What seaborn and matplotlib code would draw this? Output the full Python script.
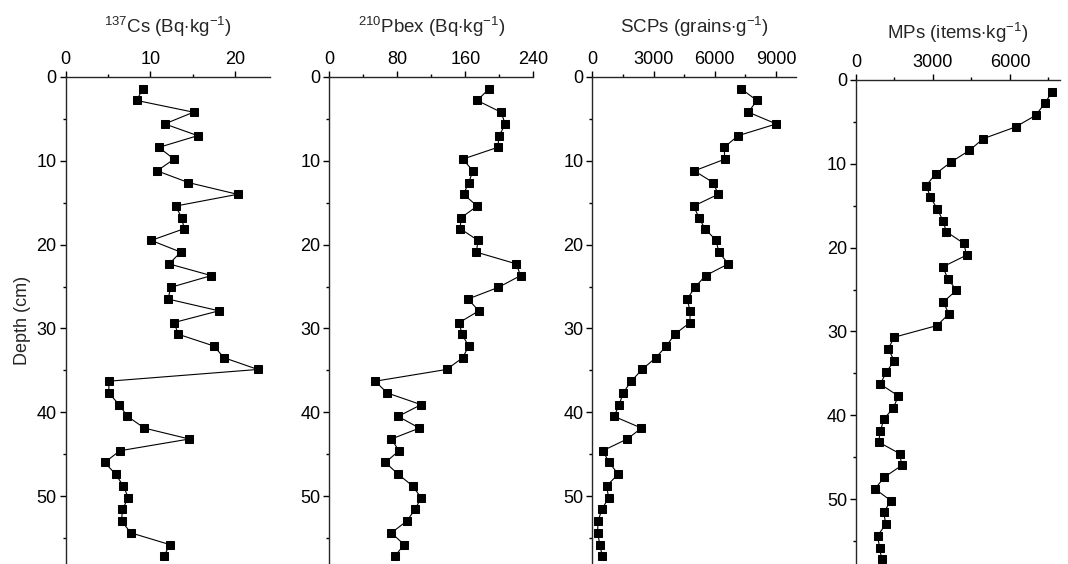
import numpy as np
import pandas as pd
import matplotlib
matplotlib.use("Agg")
import matplotlib.pyplot as plt
import seaborn as sns
from matplotlib.ticker import MultipleLocator

sns.set_style("ticks")
plt.rcParams["font.family"] = ["Liberation Sans", "DejaVu Sans"]
plt.rcParams["mathtext.fontset"] = "custom"
plt.rcParams["mathtext.rm"] = "Liberation Sans"
plt.rcParams["mathtext.it"] = "Liberation Sans"

# depth of each slice (cm)
depth = [1.4, 2.8, 4.2, 5.6, 7.0, 8.4, 9.8, 11.2, 12.6, 14.0, 15.4, 16.8, 18.1,
         19.5, 20.9, 22.3, 23.7, 25.1, 26.5, 27.9, 29.3, 30.7, 32.1, 33.5, 34.9,
         36.3, 37.7, 39.1, 40.5, 41.9, 43.2, 44.6, 46.0, 47.4, 48.8, 50.2, 51.6,
         53.0, 54.4, 55.8, 57.2]

cs137 = [9.1, 8.4, 15.1, 11.7, 15.6, 11.0, 12.8, 10.8, 14.5, 20.3, 13.0, 13.7,
         14.0, 10.1, 13.6, 12.2, 17.2, 12.4, 12.1, 18.1, 12.8, 13.3, 17.5, 18.7,
         22.7, 5.1, 5.1, 6.3, 7.3, 9.3, 14.6, 6.4, 4.6, 5.9, 6.8, 7.4, 6.7, 6.6,
         7.7, 12.3, 11.6]

pb210 = [188, 174, 202, 207, 200, 198, 157, 169, 164, 158, 174, 155, 154, 175,
         173, 220, 225, 199, 163, 176, 153, 156, 164, 157, 138, 54, 68, 108, 81,
         106, 73, 82, 66, 81, 98, 108, 101, 91, 73, 88, 77]

scps = [7290, 8070, 7650, 9020, 7150, 6460, 6500, 5000, 5930, 6170, 4970, 5230,
        5520, 6070, 6200, 6670, 5550, 5030, 4650, 4790, 4790, 4040, 3630, 3110,
        2440, 1910, 1510, 1320, 1070, 2410, 1710, 510, 830, 1270, 700, 800, 470,
        280, 260, 370, 490]

mps = [7650, 7350, 7010, 6220, 4960, 4420, 3700, 3100, 2740, 2900, 3170, 3390,
       3520, 4200, 4310, 3380, 3580, 3910, 3400, 3620, 3160, 1480, 1260, 1490,
       1170, 950, 1650, 1460, 1080, 950, 880, 1710, 1780, 1100, 740, 1360, 1080,
       1160, 840, 920, 1000]

labels = [r"$^{137}$Cs (Bq$\cdot$kg$^{-1}$)",
          r"$^{210}$Pbex (Bq$\cdot$kg$^{-1}$)",
          r"SCPs (grains$\cdot$g$^{-1}$)",
          r"MPs (items$\cdot$kg$^{-1}$)"]
series = [cs137, pb210, scps, mps]
xmax = [24.1, 240, 10000, 7950]
xmajor = [10, 80, 3000, 3000]

fig = plt.figure(figsize=(10.68, 5.64), dpi=100)
W, H = 1068, 564
lefts = [65.7, 329.3, 592.3, 856]
tops = [77, 77, 77, 80]
width = 204
pxcm = 8.38

for i in range(4):
    top = tops[i]
    ax = fig.add_axes([lefts[i] / W, 0, width / W, (H - top) / H])
    df = pd.DataFrame({"depth": depth, "val": series[i]})
    sns.lineplot(data=df, x="val", y="depth", orient="y", sort=False, ax=ax,
                 color="black", lw=0.8, marker="s", markersize=5.5,
                 markeredgecolor="black", markerfacecolor="black")
    ax.set_xlim(0, xmax[i])
    ax.set_ylim((H - top) / pxcm, 0)
    ax.xaxis.tick_top()
    ax.xaxis.set_label_position("top")
    ax.xaxis.set_major_locator(MultipleLocator(xmajor[i]))
    ax.xaxis.set_minor_locator(MultipleLocator(xmajor[i] / 2))
    ax.yaxis.set_major_locator(MultipleLocator(10))
    ax.yaxis.set_minor_locator(MultipleLocator(5))
    ax.tick_params(which="both", direction="out", width=1.0, labelsize=13,
                   colors="black")
    ax.tick_params(which="major", length=4, pad=2.5)
    ax.tick_params(which="minor", length=2)
    for s in ["right", "bottom"]:
        ax.spines[s].set_visible(False)
    for s in ["top", "left"]:
        ax.spines[s].set_linewidth(1.0)
    ax.set_xlabel(labels[i], fontsize=13.5, labelpad=13 if i < 3 else 11)
    ax.set_ylabel("Depth (cm)" if i == 0 else "", fontsize=13, labelpad=4)

fig.savefig("out.png", dpi=100)
